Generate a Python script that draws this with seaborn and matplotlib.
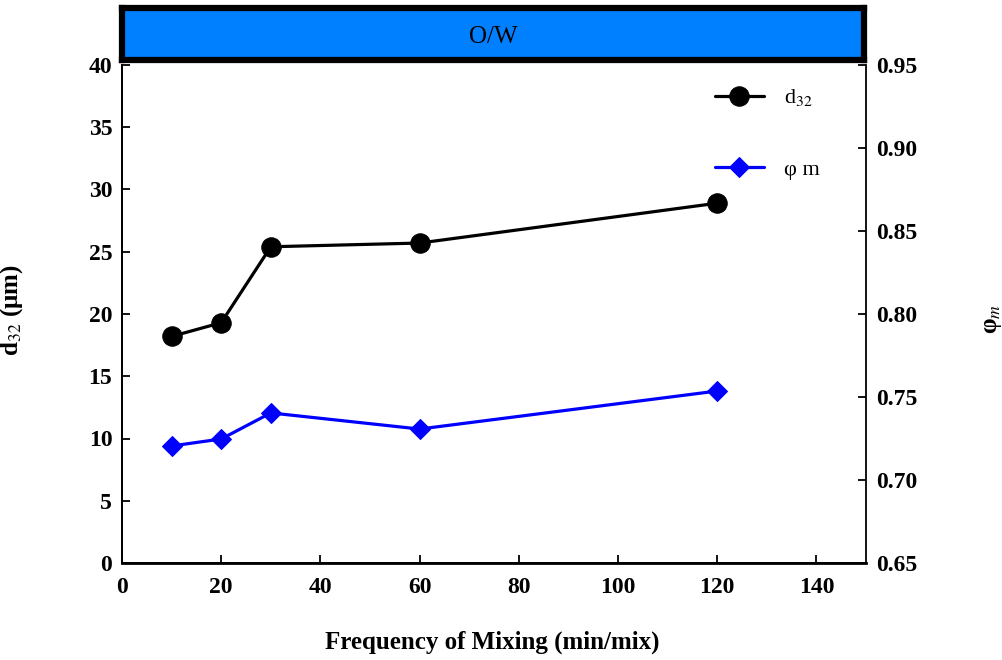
import seaborn as sns
import matplotlib.pyplot as plt
from matplotlib.ticker import MultipleLocator, FormatStrFormatter

# data
mixing_freq = [10, 20, 30, 60, 120]
d32 = [18.2, 19.3, 25.4, 25.7, 28.9]
phi_m = [0.7205, 0.7247, 0.7404, 0.7307, 0.7536]

sns.set_style('ticks', {'axes.edgecolor': 'black', 'text.color': 'black',
                        'xtick.color': 'black', 'ytick.color': 'black',
                        'axes.labelcolor': 'black'})
plt.rcParams['font.family'] = ['Liberation Serif', 'DejaVu Serif']
plt.rcParams['mathtext.fontset'] = 'stix'

fig = plt.figure(figsize=(10.03, 6.6), dpi=100)
ax = fig.add_axes([122 / 1003, 97 / 660, 744 / 1003, 498 / 660])
ax2 = ax.twinx()

# d32 on the left axis
sns.lineplot(x=mixing_freq, y=d32, ax=ax, color='black', marker='o',
             markersize=14, linewidth=2.3, markeredgecolor='black', label='d$_{32}$',
             legend=False)
# phi m on the right axis
sns.lineplot(x=mixing_freq, y=phi_m, ax=ax2, color='#0000ff', marker='D',
             markersize=10, linewidth=2.3, markeredgecolor='#0000ff', label='φ m',
             legend=False)

ax.set_xlim(0, 150)
ax.set_ylim(0, 40)
ax2.set_ylim(0.65, 0.95)
ax.xaxis.set_major_locator(MultipleLocator(20))
ax.yaxis.set_major_locator(MultipleLocator(5))
ax2.yaxis.set_major_locator(MultipleLocator(0.05))
ax2.yaxis.set_major_formatter(FormatStrFormatter('%.2f'))

for a in (ax, ax2):
    a.tick_params(direction='in', length=6, width=1.3, labelsize=17, pad=7)
    for lab in a.get_xticklabels() + a.get_yticklabels():
        lab.set_fontweight('bold')
    for s in a.spines.values():
        s.set_linewidth(1.3)
    a.spines['top'].set_visible(False)
ax.tick_params(axis='x', pad=10)
ax.spines['bottom'].set_linewidth(2)
ax.spines['right'].set_visible(False)

ax.set_xlabel('Frequency of Mixing (min/mix)', fontsize=18, fontweight='bold')
ax.xaxis.set_label_coords(0.497, -0.135)
ax.set_ylabel('d$_{32}$ (μm)', fontsize=18, fontweight='bold')
ax.yaxis.set_label_coords(-0.13, 0.508)
ax2.set_ylabel('φ$_m$', fontsize=18, fontweight='bold', rotation=90)
ax2.yaxis.set_label_coords(1.155, 0.49)

h1, l1 = ax.get_legend_handles_labels()
h2, l2 = ax2.get_legend_handles_labels()
ax.legend(h1 + h2, l1 + l2, loc='upper left', bbox_to_anchor=(0.77, 0.995),
          frameon=False, fontsize=16, labelspacing=2.3, handlelength=2.2,
          handletextpad=0.9)

# header box
tb = fig.add_axes([122 / 1003, 600 / 660, 742 / 1003, 52 / 660])
tb.set_facecolor('#0080ff')
tb.set_xticks([])
tb.set_yticks([])
for s in tb.spines.values():
    s.set_linewidth(4.5)
    s.set_color('black')
tb.text(0.5, 0.45, 'O/W', ha='center', va='center', fontsize=18,
        transform=tb.transAxes)

fig.savefig('out.png', dpi=100)
